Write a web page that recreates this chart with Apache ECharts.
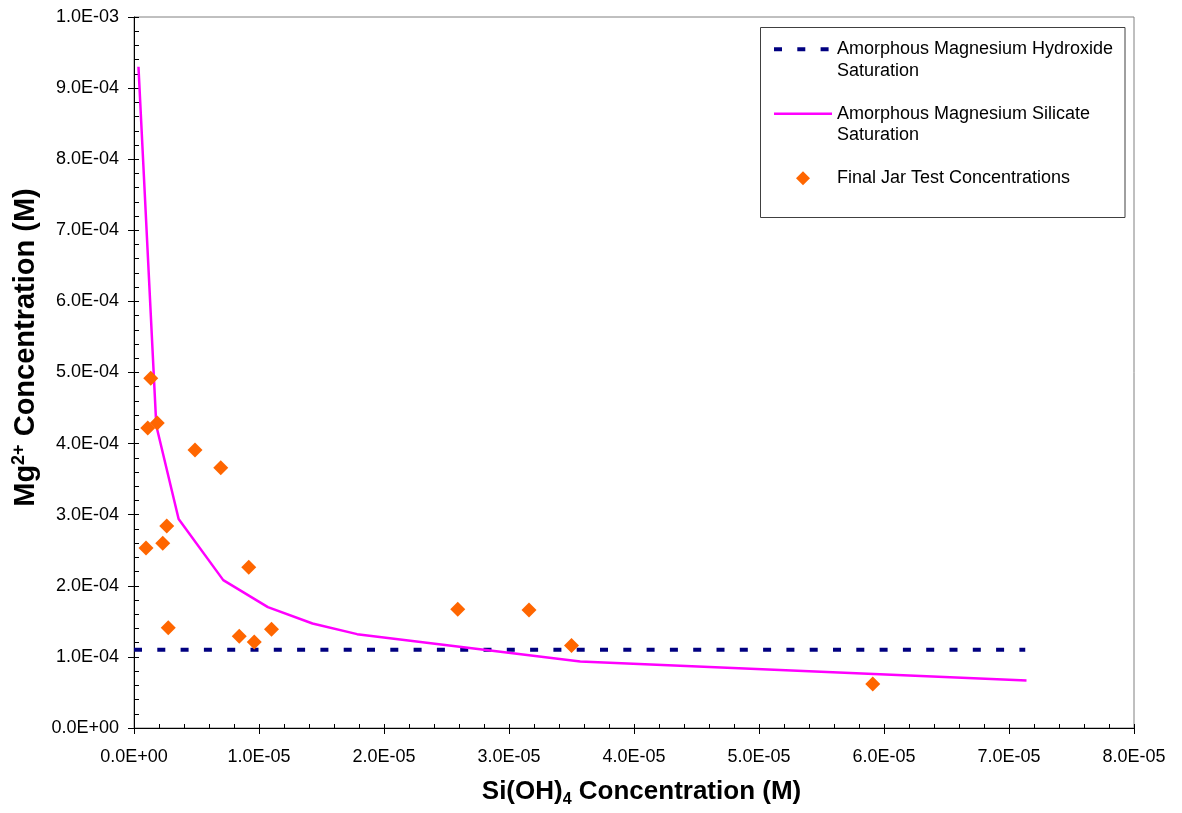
<!DOCTYPE html>
<html>
<head>
<meta charset="utf-8">
<script src="https://cdn.jsdelivr.net/npm/echarts@6/dist/echarts.min.js"></script>
<style>
  html, body { margin: 0; padding: 0; background: #fff; }
  #chart { width: 1182px; height: 813px; }
</style>
</head>
<body>
<div id="chart"></div>
<script>
// Amorphous magnesium silicate saturation curve (model)
const silicateSi = [3.57e-7, 1.785e-6, 3.57e-6, 7.14e-6, 1.071e-5, 1.428e-5, 1.785e-5, 3.57e-5, 7.14e-5];
const silicateMg = [9.30e-4, 4.25e-4, 2.94e-4, 2.08e-4, 1.70e-4, 1.47e-4, 1.32e-4, 9.35e-5, 6.68e-5];

// Amorphous magnesium hydroxide saturation (constant Mg2+)
const hydroxideSi = [0, 7.13e-5];
const hydroxideMg = [1.10e-4, 1.10e-4];

// Final jar test concentrations
const jarSi = [1.34e-6, 1.10e-6, 1.86e-6, 4.88e-6, 6.94e-6, 2.62e-6, 2.30e-6, 9.6e-7, 9.18e-6,
               2.74e-6, 8.42e-6, 9.62e-6, 1.10e-5, 2.59e-5, 3.16e-5, 3.50e-5, 5.91e-5];
const jarMg = [4.92e-4, 4.22e-4, 4.29e-4, 3.91e-4, 3.66e-4, 2.84e-4, 2.60e-4, 2.53e-4, 2.26e-4,
               1.41e-4, 1.29e-4, 1.21e-4, 1.39e-4, 1.67e-4, 1.66e-4, 1.16e-4, 6.2e-5];

const seriesNames = [
  'Amorphous Magnesium Hydroxide\nSaturation',
  'Amorphous Magnesium Silicate\nSaturation',
  'Final Jar Test Concentrations'
];

// Axis ranges
const xMin = 0, xMax = 8e-5, xStep = 1e-5;
const yMin = 0, yMax = 1e-3, yStep = 1e-4;

const FONT = '"Liberation Sans", Arial, sans-serif';

function sci(v) {
  if (Math.abs(v) < 1e-15) return '0.0E+00';
  const e = Math.floor(Math.log10(Math.abs(v)) + 1e-9);
  const m = v / Math.pow(10, e);
  const ae = Math.abs(e);
  return m.toFixed(1) + 'E' + (e < 0 ? '-' : '+') + (ae < 10 ? '0' : '') + ae;
}

const zip = (a, b) => a.map((v, i) => [v, b[i]]);

const chart = echarts.init(document.getElementById('chart'), null, { renderer: 'canvas' });

function titleRich(size) {
  return {
    b: { fontSize: size, fontWeight: 'bold', fontFamily: FONT, color: '#000', lineHeight: 32 },
    sub: { fontSize: Math.round(size * 0.62), fontWeight: 'bold', fontFamily: FONT, color: '#000', lineHeight: 16, verticalAlign: 'bottom' },
    sup: { fontSize: Math.round(size * 0.62), fontWeight: 'bold', fontFamily: FONT, color: '#000', lineHeight: 16, verticalAlign: 'top' }
  };
}

const axisLabelStyle = { fontSize: 18, fontFamily: FONT, color: '#000' };

// legend rows: the icon sits on the first text line
const LEGEND_LH = 21.5;
// diamond outline for the legend (path icons keep their aspect ratio)
const DIAMOND_ICON = 'path://M1,0L2,1L1,2L0,1Z';

chart.setOption({
  animation: false,
  backgroundColor: '#fff',
  grid: {
    left: 134, right: 48, top: 17, bottom: 82,
    show: true, borderColor: '#808080', borderWidth: 1, backgroundColor: 'transparent'
  },
  xAxis: [
    {
      type: 'value', min: xMin, max: xMax, interval: xStep, position: 'bottom',
      name: '{b|Si(OH)}{sub|4}{b| Concentration (M)}',
      nameLocation: 'middle', nameGap: 48,
      nameTextStyle: { rich: titleRich(26), padding: [0, 0, 0, 15] },
      axisLine: { show: true, onZero: false, lineStyle: { color: '#000', width: 1 } },
      axisTick: { show: true, inside: false, length: 6, lineStyle: { color: '#000' } },
      axisLabel: { ...axisLabelStyle, margin: 20, formatter: sci },
      splitLine: { show: false }
    },
    {
      type: 'value', min: xMin, max: xMax, interval: xStep, position: 'bottom', offset: 0,
      axisLine: { show: false, onZero: false },
      axisTick: { show: true, inside: true, length: 4, lineStyle: { color: '#000' } },
      minorTick: { show: true, splitNumber: 5, length: 4, lineStyle: { color: '#000' } },
      axisLabel: { show: false },
      splitLine: { show: false }
    }
  ],
  yAxis: [
    {
      type: 'value', min: yMin, max: yMax, interval: yStep, position: 'left',
      name: '{b|Mg}{sup|2+}{b| Concentration (M)}',
      nameLocation: 'middle', nameGap: 91,
      nameTextStyle: { rich: titleRich(29), padding: [0, 0, 0, 50] },
      axisLine: { show: true, onZero: false, lineStyle: { color: '#000', width: 1 } },
      axisTick: { show: true, inside: false, length: 6, lineStyle: { color: '#000' } },
      axisLabel: { ...axisLabelStyle, margin: 15, formatter: sci },
      splitLine: { show: false }
    },
    {
      type: 'value', min: yMin, max: yMax, interval: yStep, position: 'left', offset: 0,
      axisLine: { show: false, onZero: false },
      axisTick: { show: true, inside: true, length: 5, lineStyle: { color: '#000' } },
      minorTick: { show: true, splitNumber: 5, length: 5, lineStyle: { color: '#000' } },
      axisLabel: { show: false },
      splitLine: { show: false }
    }
  ],
  legend: {
    orient: 'vertical', left: 772, top: 17, padding: 0, itemGap: 0,
    itemWidth: 58, itemHeight: 14, symbolKeepAspect: true,
    textStyle: { fontSize: 18, fontFamily: FONT, color: '#000', lineHeight: LEGEND_LH },
    lineStyle: { width: 'inherit' },
    // an empty line above (and below, for single-line rows) keeps the icon on the first line
    formatter: name => name.indexOf('\n') >= 0 ? '\n' + name : '\n' + name + '\n',
    data: [
      { name: seriesNames[0], itemStyle: { opacity: 0 } },
      { name: seriesNames[1], itemStyle: { opacity: 0 } },
      { name: seriesNames[2], icon: DIAMOND_ICON, itemStyle: { opacity: 1 } }
    ]
  },
  graphic: [
    {
      type: 'rect', z: 1, silent: true,
      shape: { x: 760.5, y: 27.5, width: 364.5, height: 190 },
      style: { fill: 'none', stroke: '#404040', lineWidth: 1 }
    }
  ],
  series: [
    {
      name: seriesNames[0], type: 'line', xAxisIndex: 0, yAxisIndex: 0,
      data: zip(hydroxideSi, hydroxideMg),
      symbol: 'none', silent: true, z: 3,
      lineStyle: { color: '#000080', width: 4, type: [8, 15.3] },
      itemStyle: { color: '#000080' }
    },
    {
      name: seriesNames[1], type: 'line', xAxisIndex: 0, yAxisIndex: 0,
      data: zip(silicateSi, silicateMg),
      symbol: 'none', silent: true, z: 4,
      lineStyle: { color: '#FF00FF', width: 2.5 },
      itemStyle: { color: '#FF00FF' }
    },
    {
      name: seriesNames[2], type: 'scatter', xAxisIndex: 0, yAxisIndex: 0,
      data: zip(jarSi, jarMg),
      symbol: 'diamond', symbolSize: 15, silent: true, z: 5,
      itemStyle: { color: '#FF6600', opacity: 1 }
    }
  ]
});
</script>
</body>
</html>
